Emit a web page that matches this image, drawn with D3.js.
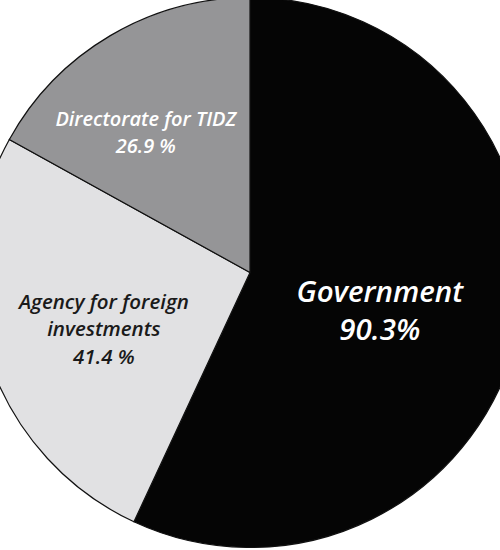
<!DOCTYPE html>
<html>
<head>
<meta charset="utf-8">
<script src="https://cdn.jsdelivr.net/npm/d3@7"></script>
<style>
  html, body { margin: 0; padding: 0; background: #fff; }
  svg { display: block; }
  text { font-family: "Open Sans", "Noto Sans", sans-serif; font-style: italic; font-weight: 600; }
</style>
</head>
<body>
<svg id="chart" width="500" height="550"></svg>
<script>
// ---- data ----
const categories = ["Government", "Agency for foreign investments", "Directorate for TIDZ"];
const values = [90.3, 41.4, 26.9];
const valueLabels = ["90.3%", "41.4 %", "26.9 %"];
const labelLines = [["Government"], ["Agency for foreign", "investments"], ["Directorate for TIDZ"]];

// ---- styling / layout ----
const colors = ["#050505", "#e1e1e3", "#959597"];
const textColors = ["#ffffff", "#1a1a1a", "#ffffff"];
const fontSizes = [29.5, 20.5, 20];
const lineHeights = [38, 27.5, 27];
const labelRadius = [139, 160, 168];
const labelAngleShiftDeg = [8.5, -6, -7.8];

const W = 500, H = 550;
const cx = 250, cy = 272.5, R = 275;
const labelOriginY = 271;

const svg = d3.select("#chart");
const g = svg.append("g").attr("transform", `translate(${cx},${cy})`);

const pie = d3.pie().sort(null).value(d => d)
  .startAngle(0).endAngle(2 * Math.PI);
const arcs = pie(values);
const arc = d3.arc().innerRadius(0).outerRadius(R);

g.selectAll("path.slice")
  .data(arcs)
  .join("path")
  .attr("class", "slice")
  .attr("d", arc)
  .attr("fill", (d, i) => colors[i])
  .attr("stroke", "#111")
  .attr("stroke-width", 1.2);

const lg = svg.append("g").attr("transform", `translate(${cx},${labelOriginY})`);
arcs.forEach((a, i) => {
  const mid = (a.startAngle + a.endAngle) / 2 + labelAngleShiftDeg[i] * Math.PI / 180;
  const x = Math.sin(mid) * labelRadius[i];
  const y = -Math.cos(mid) * labelRadius[i];
  const lines = labelLines[i].concat([valueLabels[i]]);
  const n = lines.length;
  const t = lg.append("text")
    .attr("text-anchor", "middle")
    .attr("fill", textColors[i])
    .attr("font-size", fontSizes[i]);
  lines.forEach((ln, k) => {
    t.append("tspan")
      .attr("x", x)
      .attr("y", y + (k - (n - 1) / 2) * lineHeights[i])
      .text(ln);
  });
});
</script>
</body>
</html>
